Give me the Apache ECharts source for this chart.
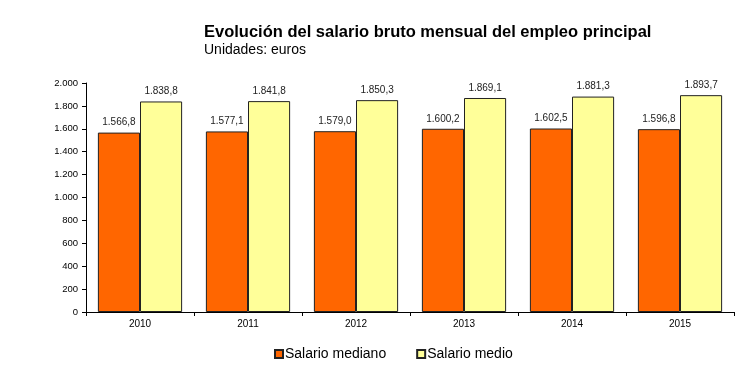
<!DOCTYPE html>
<html><head><meta charset="utf-8">
<script src="https://cdn.jsdelivr.net/npm/echarts@6/dist/echarts.min.js"></script>
<style>html,body{margin:0;padding:0;background:#fff}#c{width:756px;height:371px}</style>
</head><body><div id="c"></div>
<script>
var categories = ['2010','2011','2012','2013','2014','2015'];
var mediano = [1566.8, 1577.1, 1579.0, 1600.2, 1602.5, 1596.8];
var medio = [1838.8, 1841.8, 1850.3, 1869.1, 1881.3, 1893.7];
var seriesNames = ['Salario mediano', 'Salario medio'];

function fmtVal(v){
  var s = v.toFixed(1).split('.');
  var i = s[0].replace(/\B(?=(\d{3})+(?!\d))/g, '.');
  return i + ',' + s[1];
}
function fmtAxis(v){
  return String(v).replace(/\B(?=(\d{3})+(?!\d))/g, '.');
}
var chart = echarts.init(document.getElementById('c'));
var labelCfg = {show:true, position:'top', distance:5, fontFamily:'Liberation Sans, Arial', fontSize:10, color:'#222',
  formatter:function(p){return fmtVal(p.value);}};
chart.setOption({
  animation:false,
  textStyle:{fontFamily:'Liberation Sans, Arial'},
  title:{text:'Evolución del salario bruto mensual del empleo principal', subtext:'Unidades: euros',
    left:199, top:19, itemGap:2,
    textStyle:{fontFamily:'Liberation Sans, Arial', fontSize:16.5, fontWeight:'bold', color:'#000'},
    subtextStyle:{fontFamily:'Liberation Sans, Arial', fontSize:14, color:'#000'}},
  legend:{top:342, left:269, icon:'rect', itemWidth:8, itemHeight:8, itemGap:30,
    textStyle:{fontFamily:'Liberation Sans, Arial', fontSize:14, color:'#000', padding:[0,0,0,-3]},
    data:seriesNames},
  grid:{left:86, right:22, top:83, bottom:59},
  xAxis:{type:'category', data:categories,
    axisLine:{lineStyle:{color:'#000', width:1}},
    axisTick:{show:true, length:4, lineStyle:{color:'#000'}},
    axisLabel:{fontSize:10, color:'#000', margin:7}},
  yAxis:{type:'value', min:0, max:2000, interval:200,
    axisLine:{show:true, lineStyle:{color:'#000'}},
    axisTick:{show:true, length:4, lineStyle:{color:'#000'}},
    splitLine:{show:false},
    axisLabel:{fontSize:9.5, color:'#000', margin:8, formatter:fmtAxis}},
  series:[
    {name:seriesNames[0], type:'bar', data:mediano, barGap:'0%', barCategoryGap:'22%',
     itemStyle:{color:'#FF6600', borderColor:'#222', borderWidth:1}, label:labelCfg},
    {name:seriesNames[1], type:'bar', data:medio, barGap:'0%', barCategoryGap:'22%',
     itemStyle:{color:'#FFFF99', borderColor:'#222', borderWidth:1}, label:labelCfg}
  ]
});
</script></body></html>
